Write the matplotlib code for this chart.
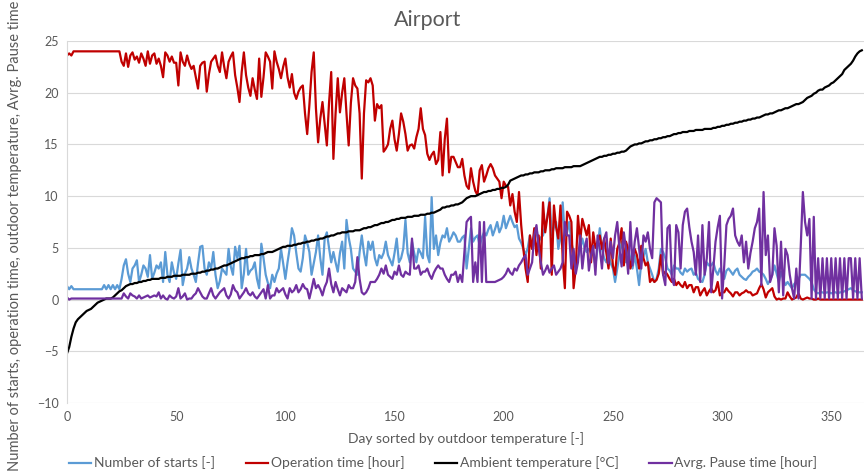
import numpy as np
import matplotlib
matplotlib.use("Agg")
import matplotlib.pyplot as plt

# Values, one per day (0..364)
ambient_temp = [
    -5.2, -4.6, -3.6, -2.8, -2.2, -1.9, -1.7, -1.5, -1.3, -1.1,
    -1.0, -0.9, -0.7, -0.5, -0.3, -0.2, -0.1, 0.0, 0.1, 0.1,
    0.1, 0.2, 0.4, 0.6, 0.8, 0.9, 1.1, 1.3, 1.4, 1.5,
    1.5, 1.6, 1.6, 1.7, 1.7, 1.8, 1.8, 1.9, 1.9, 2.0,
    2.0, 2.0, 2.0, 2.1, 2.1, 2.1, 2.2, 2.2, 2.2, 2.3,
    2.3, 2.3, 2.3, 2.4, 2.4, 2.4, 2.4, 2.5, 2.5, 2.5,
    2.6, 2.6, 2.7, 2.7, 2.8, 2.8, 2.9, 2.9, 3.0, 3.0,
    3.1, 3.2, 3.3, 3.3, 3.4, 3.5, 3.6, 3.7, 3.8, 3.9,
    4.0, 4.0, 4.1, 4.1, 4.2, 4.2, 4.3, 4.3, 4.3, 4.4,
    4.4, 4.5, 4.6, 4.6, 4.6, 4.7, 4.8, 4.9, 5.0, 5.1,
    5.1, 5.2, 5.2, 5.2, 5.3, 5.3, 5.4, 5.4, 5.5, 5.5,
    5.6, 5.6, 5.7, 5.7, 5.8, 5.8, 5.9, 5.9, 6.0, 6.1,
    6.1, 6.2, 6.2, 6.3, 6.4, 6.4, 6.5, 6.5, 6.5, 6.6,
    6.6, 6.6, 6.7, 6.7, 6.7, 6.8, 6.9, 6.9, 7.0, 7.0,
    7.1, 7.2, 7.2, 7.3, 7.4, 7.4, 7.5, 7.5, 7.6, 7.7,
    7.7, 7.8, 7.8, 7.9, 7.9, 7.9, 8.0, 8.0, 8.0, 8.1,
    8.1, 8.1, 8.2, 8.2, 8.2, 8.3, 8.3, 8.4, 8.4, 8.5,
    8.6, 8.7, 8.9, 8.9, 9.0, 9.0, 9.1, 9.1, 9.2, 9.2,
    9.3, 9.4, 9.6, 9.8, 9.9, 10.0, 10.0, 10.0, 10.1, 10.2,
    10.3, 10.4, 10.4, 10.5, 10.5, 10.6, 10.6, 10.7, 10.7, 10.8,
    10.8, 10.9, 11.1, 11.5, 11.6, 11.7, 11.8, 11.9, 12.0, 12.0,
    12.1, 12.1, 12.2, 12.2, 12.3, 12.3, 12.3, 12.4, 12.4, 12.5,
    12.5, 12.5, 12.6, 12.6, 12.7, 12.7, 12.7, 12.7, 12.8, 12.8,
    12.8, 12.8, 12.9, 12.9, 12.9, 12.9, 13.0, 13.1, 13.2, 13.3,
    13.4, 13.5, 13.6, 13.7, 13.8, 13.8, 13.9, 13.9, 14.0, 14.0,
    14.1, 14.1, 14.2, 14.2, 14.3, 14.3, 14.4, 14.6, 14.8, 14.9,
    15.0, 15.0, 15.1, 15.1, 15.2, 15.3, 15.3, 15.4, 15.4, 15.5,
    15.5, 15.6, 15.6, 15.7, 15.7, 15.8, 15.8, 15.9, 16.0, 16.0,
    16.1, 16.1, 16.2, 16.2, 16.2, 16.3, 16.3, 16.3, 16.4, 16.4,
    16.4, 16.4, 16.5, 16.5, 16.5, 16.5, 16.6, 16.6, 16.7, 16.7,
    16.8, 16.8, 16.9, 16.9, 17.0, 17.0, 17.1, 17.1, 17.2, 17.2,
    17.3, 17.3, 17.4, 17.4, 17.5, 17.5, 17.6, 17.6, 17.7, 17.8,
    17.9, 17.9, 18.0, 18.0, 18.1, 18.2, 18.3, 18.3, 18.4, 18.5,
    18.5, 18.6, 18.7, 18.8, 18.9, 18.9, 19.0, 19.1, 19.3, 19.5,
    19.6, 19.7, 19.9, 20.0, 20.2, 20.3, 20.3, 20.5, 20.6, 20.7,
    20.9, 21.0, 21.2, 21.4, 21.6, 21.8, 22.2, 22.4, 22.6, 22.8,
    23.1, 23.5, 23.8, 24.0, 24.1,
]

operation_time = [
    23.6, 23.8, 23.6, 24.0, 24.0, 24.0, 24.0, 24.0, 24.0, 24.0,
    24.0, 24.0, 24.0, 24.0, 24.0, 24.0, 24.0, 24.0, 24.0, 24.0,
    24.0, 24.0, 24.0, 24.0, 24.0, 23.0, 22.6, 23.8, 22.5, 23.6,
    23.9, 23.2, 23.5, 22.9, 23.8, 23.3, 22.6, 24.0, 22.8, 23.6,
    23.8, 22.8, 23.3, 22.6, 21.5, 23.9, 23.6, 23.0, 23.5, 22.9,
    22.9, 20.7, 23.9, 23.0, 22.6, 23.6, 22.8, 22.3, 22.6, 21.5,
    20.4, 22.6, 22.9, 23.0, 20.1, 21.8, 23.0, 23.3, 23.6, 22.6,
    22.0, 23.9, 22.5, 21.4, 23.0, 23.5, 23.9, 21.7, 20.5, 19.1,
    22.0, 23.9, 21.7, 20.5, 19.7, 21.4, 20.3, 19.4, 23.3, 19.6,
    21.5, 23.9, 23.5, 23.0, 20.4, 24.0, 23.0, 22.3, 21.4, 22.5,
    23.3, 21.5, 20.5, 21.8, 20.0, 19.4, 20.1, 20.5, 20.7, 18.0,
    16.0, 18.8, 22.0, 23.9, 18.5, 15.2, 17.5, 19.1, 17.0, 14.9,
    19.0, 22.0, 13.6, 18.0, 21.4, 18.1, 20.0, 21.4, 18.0, 14.9,
    19.0, 21.4, 20.7, 20.4, 18.0, 11.7, 18.0, 21.2, 21.0, 21.4,
    20.7, 17.3, 18.9, 18.5, 18.8, 14.3, 14.6, 15.0, 16.5, 17.3,
    15.5, 14.4, 16.0, 18.0, 17.2, 16.0, 14.4, 14.9, 15.0, 14.6,
    15.7, 16.5, 18.5, 16.5, 15.9, 14.1, 13.5, 14.0, 14.3, 13.1,
    13.5, 16.2, 12.0, 15.5, 17.5, 12.3, 13.8, 13.8, 13.3, 12.8,
    12.8, 13.6, 12.0, 11.0, 10.7, 12.7, 11.4, 10.5, 10.1, 12.5,
    13.0, 11.4, 12.0, 12.7, 13.1, 12.7, 12.0, 11.7, 11.4, 9.8,
    11.4, 11.0, 10.9, 9.1, 10.2, 8.5, 7.5, 10.4, 7.2, 4.9,
    3.0, 1.7, 6.2, 4.9, 6.9, 4.3, 6.2, 3.0, 9.4, 6.5,
    8.0, 9.4, 2.4, 9.1, 7.0, 5.9, 9.1, 4.0, 1.1, 8.5,
    8.1, 7.5, 1.1, 3.0, 8.1, 5.6, 7.8, 7.0, 6.2, 7.2,
    3.6, 6.5, 5.0, 5.6, 6.2, 4.9, 5.9, 4.5, 3.0, 5.9,
    3.3, 2.4, 4.9, 5.5, 6.9, 3.3, 5.6, 4.9, 3.0, 4.0,
    4.9, 4.3, 3.0, 5.2, 4.0, 3.3, 3.6, 1.7, 2.0, 1.7,
    1.9, 2.5, 4.3, 2.4, 2.7, 2.4, 2.0, 1.7, 2.0, 1.4,
    1.7, 1.4, 1.2, 1.7, 1.1, 1.4, 1.4, 0.7, 1.2, 1.2,
    0.4, 0.8, 1.1, 0.4, 0.8, 1.1, 0.7, 0.9, 1.7, 0.4,
    0.7, 0.7, 1.1, 0.8, 0.6, 0.3, 0.7, 0.7, 0.4, 0.6,
    0.7, 0.9, 0.7, 0.7, 0.4, 0.5, 0.6, 1.1, 1.5, 1.0,
    0.2, 0.7, 0.9, 1.1, 0.3, 0.0, 0.1, 0.0, 0.1, 0.1,
    0.7, 0.3, 0.0, 0.1, 0.2, 0.6, 0.1, 0.0, 0.1, 0.2,
    0.1, 0.1, 0.0, 0.0, 0.1, 0.0, 0.0, 0.0, 0.0, 0.0,
    0.0, 0.0, 0.0, 0.0, 0.0, 0.0, 0.0, 0.0, 0.0, 0.0,
    0.0, 0.0, 0.0, 0.0, 0.0,
]

number_of_starts = [
    1.3, 1.0, 1.3, 1.0, 1.0, 1.0, 1.0, 1.0, 1.0, 1.0,
    1.0, 1.0, 1.0, 1.0, 1.0, 1.0, 1.0, 1.4, 1.0, 1.4,
    1.0, 1.4, 1.0, 1.4, 1.0, 2.0, 3.3, 3.9, 2.5, 1.7,
    3.0, 3.3, 3.8, 1.7, 2.4, 3.3, 3.0, 2.2, 4.3, 2.0,
    2.6, 3.3, 3.0, 3.6, 1.7, 4.6, 2.4, 1.7, 3.6, 2.6,
    2.0, 3.5, 4.8, 1.4, 2.5, 3.0, 4.1, 3.0, 2.4, 1.7,
    3.5, 5.1, 5.2, 3.0, 2.4, 3.6, 3.0, 4.6, 2.4, 1.1,
    1.8, 3.0, 2.7, 2.4, 4.9, 3.2, 2.4, 5.1, 4.0, 5.2,
    1.1, 2.5, 4.9, 2.4, 2.8, 3.0, 3.6, 2.0, 1.1, 5.4,
    4.0, 2.4, 1.6, 1.1, 2.4, 1.7, 2.5, 3.0, 4.9, 3.5,
    2.0, 3.6, 5.0, 6.9, 6.2, 4.5, 3.0, 2.7, 4.0, 6.2,
    5.5, 4.6, 2.4, 3.5, 4.6, 6.2, 4.0, 2.4, 5.9, 6.5,
    5.0, 3.6, 4.6, 3.6, 2.7, 4.5, 5.6, 3.0, 7.7, 6.0,
    4.9, 3.0, 2.7, 2.4, 4.6, 6.2, 4.5, 3.3, 5.6, 4.8,
    5.6, 4.0, 3.3, 4.3, 4.0, 4.5, 5.6, 4.3, 3.8, 3.3,
    4.5, 5.9, 3.6, 4.0, 4.9, 7.7, 4.5, 3.6, 5.6, 4.5,
    3.6, 4.9, 4.5, 4.0, 8.0, 4.3, 3.6, 9.9, 4.9, 6.2,
    4.3, 5.5, 6.2, 6.0, 6.9, 5.6, 6.0, 6.5, 6.2, 5.6,
    5.6, 6.0, 6.2, 3.0, 4.9, 6.9, 5.6, 6.0, 6.2, 5.2,
    6.0, 6.5, 6.2, 6.8, 7.2, 6.2, 6.8, 7.5, 6.5, 7.0,
    8.1, 6.9, 7.5, 8.1, 7.5, 7.0, 7.2, 5.9, 5.5, 4.9,
    4.3, 5.0, 6.2, 4.9, 5.5, 6.9, 5.6, 6.0, 6.2, 7.2,
    8.0, 9.8, 6.2, 7.0, 7.5, 4.9, 6.0, 9.4, 6.2, 6.5,
    7.5, 5.5, 4.6, 3.0, 4.0, 4.9, 5.9, 5.0, 4.6, 4.9,
    4.5, 4.3, 3.3, 5.0, 6.9, 4.9, 4.0, 3.6, 4.3, 3.5,
    3.0, 1.7, 3.0, 4.3, 5.6, 4.5, 3.6, 4.9, 4.0, 3.0,
    4.3, 3.0, 1.4, 3.6, 4.2, 4.9, 3.6, 3.0, 2.4, 1.7,
    2.0, 3.0, 4.9, 4.6, 4.0, 3.0, 2.8, 2.4, 3.3, 3.0,
    3.0, 2.6, 2.4, 3.0, 2.7, 2.9, 3.0, 2.4, 2.6, 2.0,
    1.8, 1.7, 2.4, 3.6, 3.3, 3.3, 3.6, 2.8, 2.4, 3.0,
    2.5, 2.0, 2.8, 3.0, 2.7, 2.4, 2.8, 3.0, 2.4, 2.2,
    2.0, 1.9, 2.2, 2.4, 2.7, 2.8, 3.0, 2.7, 2.6, 2.4,
    2.0, 1.5, 1.9, 2.4, 3.3, 2.5, 1.7, 2.7, 2.0, 1.4,
    1.7, 1.4, 1.1, 1.5, 1.7, 2.0, 2.4, 2.4, 2.4, 2.2,
    2.0, 1.7, 1.0, 0.7, 0.6, 0.7, 0.7, 0.6, 0.7, 0.7,
    0.6, 0.7, 0.7, 0.6, 0.7, 0.7, 0.8, 0.9, 1.0, 1.1,
    0.9, 0.8, 0.7, 0.7, 0.7,
]

pause_time = [
    0.2, 0.0, 0.1, 0.1, 0.1, 0.1, 0.1, 0.1, 0.1, 0.1,
    0.1, 0.1, 0.1, 0.1, 0.1, 0.1, 0.1, 0.1, 0.1, 0.1,
    0.1, 0.1, 0.1, 0.1, 0.1, 0.1, 0.6, 0.3, 0.1, 0.6,
    0.4, 0.3, 0.1, 0.4, 0.1, 0.2, 0.3, 0.4, 0.2, 0.3,
    0.4, 0.3, 0.7, 0.1, 0.4, 0.1, 0.0, 0.4, 0.2, 0.1,
    0.3, 1.1, 0.1, 0.3, 0.6, 0.0, 0.1, 0.1, 0.4, 0.6,
    1.1, 0.7, 0.3, 0.1, 0.1, 0.6, 1.1, 0.4, 0.1, 0.4,
    0.7, 0.9, 1.1, 0.4, 0.1, 0.5, 1.4, 0.9, 0.7, 0.1,
    0.4, 0.7, 1.1, 0.6, 0.4, 0.7, 0.3, 0.1, 0.4, 0.7,
    1.0, 0.1, 1.4, 0.1, 0.4, 0.4, 1.1, 0.7, 0.9, 1.1,
    0.5, 0.1, 1.1, 0.7, 0.9, 1.4, 0.7, 1.0, 1.5, 1.1,
    1.0, 0.1, 1.0, 2.0, 1.1, 1.4, 1.0, 0.4, 1.2, 1.7,
    3.0, 1.5, 0.7, 1.7, 1.0, 0.4, 1.1, 0.9, 0.7, 1.4,
    1.1, 1.1, 1.7, 4.1, 2.0, 0.7, 0.5, 0.7, 1.1, 1.7,
    1.7, 1.7, 2.0, 2.4, 3.0, 2.5, 3.3, 2.4, 2.2, 2.0,
    2.7, 2.4, 3.3, 2.4, 2.2, 2.7, 2.5, 2.4, 5.9, 3.0,
    3.0, 3.3, 2.4, 2.7, 2.7, 3.0, 2.4, 2.0, 2.6, 3.0,
    3.3, 3.0, 3.0, 2.4, 2.0, 1.7, 2.4, 2.4, 2.7, 1.7,
    2.4, 1.7, 4.6, 7.5, 7.8, 8.0, 1.7, 3.6, 1.7, 7.5,
    1.7, 7.5, 1.7, 1.7, 1.7, 1.7, 1.7, 1.8, 1.9, 2.0,
    2.2, 2.5, 3.0, 2.6, 2.4, 3.0, 2.8, 3.3, 3.6, 4.0,
    4.3, 2.4, 3.0, 3.6, 6.2, 7.2, 5.0, 3.6, 2.4, 2.8,
    3.3, 2.6, 3.0, 3.3, 2.4, 2.7, 3.0, 3.6, 7.5, 6.2,
    6.2, 3.0, 4.9, 2.5, 3.6, 6.2, 3.0, 4.9, 5.9, 2.8,
    4.3, 5.2, 2.4, 6.2, 4.9, 3.0, 5.9, 6.5, 3.5, 5.6,
    4.0, 6.2, 7.5, 4.9, 3.2, 6.5, 4.9, 2.5, 7.5, 3.3,
    5.6, 6.9, 4.9, 3.0, 6.2, 5.6, 6.5, 4.9, 4.0, 9.4,
    9.8, 9.6, 9.4, 2.4, 1.4, 6.9, 7.2, 2.0, 1.4, 7.2,
    6.5, 3.0, 7.2, 8.5, 8.8, 7.0, 5.6, 4.6, 2.4, 6.2,
    1.7, 7.2, 2.4, 4.0, 7.5, 0.7, 3.0, 5.6, 7.0, 8.1,
    0.1, 3.3, 7.2, 7.8, 8.1, 8.8, 6.2, 5.6, 5.2, 6.2,
    3.6, 5.6, 3.0, 4.5, 5.6, 6.9, 7.5, 8.8, 1.4, 10.4,
    4.3, 6.2, 1.7, 2.4, 6.9, 5.2, 0.7, 5.6, 0.4, 4.9,
    4.3, 2.4, 1.1, 0.1, 3.0, 0.1, 5.0, 10.4, 7.5, 6.2,
    7.8, 0.1, 8.0, 0.1, 4.0, 0.1, 4.0, 0.1, 4.0, 0.1,
    4.0, 0.1, 4.0, 0.1, 4.0, 0.1, 4.0, 0.1, 4.0, 4.0,
    0.1, 4.0, 0.1, 4.0, 0.1,
]

days = np.arange(len(ambient_temp))

grey = '#595959'
plt.rcParams['font.family'] = ['Lato', 'DejaVu Sans']

fig = plt.figure(figsize=(8.64, 4.72), dpi=100)
ax = fig.add_axes([67 / 864, 1 - 403 / 472, (864 - 67) / 864, (403 - 41) / 472])

ax.plot(days, number_of_starts, color='#5B9BD5', lw=1.6, label='Number of starts [-]')
ax.plot(days, operation_time, color='#C00000', lw=1.6, label='Operation time [hour]')
ax.plot(days, ambient_temp, color='black', lw=1.6, label='Ambient temperature [°C]')
ax.plot(days, pause_time, color='#7030A0', lw=1.6, label='Avrg. Pause time [hour]')

ax.set_xlim(0, 365)
ax.set_ylim(-10, 25)
ax.set_xticks(range(0, 351, 50))
ax.set_yticks(range(-10, 26, 5))
ax.grid(axis='y', color='#D9D9D9', lw=0.8)
ax.set_axisbelow(True)
for side in ['top', 'right', 'bottom']:
    ax.spines[side].set_visible(False)
ax.spines['left'].set_color('#D9D9D9')
ax.tick_params(length=0, labelsize=9, colors=grey, pad=6)

ax.set_xlabel('Day sorted by outdoor temperature [-]', fontsize=10, color=grey, labelpad=6)
fig.text(15 / 864, 0.5, 'Number of starts, operation time, outdoor temperature, Avrg. Pause time',
         rotation=90, ha='center', va='center', fontsize=10.5, color=grey)
fig.text(428 / 864, 1 - 20 / 472, 'Airport', ha='center', va='center', fontsize=15.5, color=grey)

fig.legend(loc='center', bbox_to_anchor=(0.513, 1 - 463 / 472), ncol=4, frameon=False,
           fontsize=10, labelcolor=grey, handlelength=1.6, handletextpad=0.2, columnspacing=2.2)

fig.savefig('out.png', dpi=100)
